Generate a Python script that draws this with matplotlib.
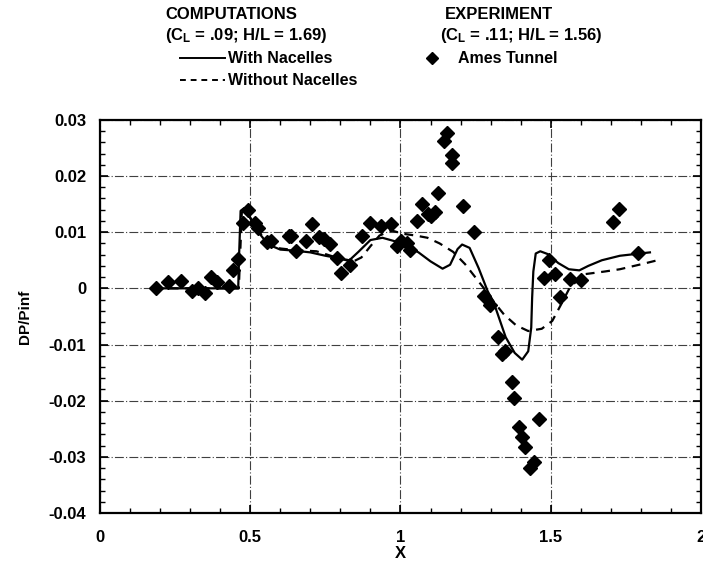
import numpy as np
import matplotlib
matplotlib.use('Agg')
import matplotlib.pyplot as plt
from matplotlib.lines import Line2D
from matplotlib.ticker import MultipleLocator, FuncFormatter

plt.rcParams['font.family'] = ['Liberation Sans', 'DejaVu Sans']
plt.rcParams['font.weight'] = 'bold'
plt.rcParams['mathtext.fontset'] = 'custom'
plt.rcParams['mathtext.rm'] = 'Liberation Sans:bold'
plt.rcParams['mathtext.default'] = 'rm'

# Experiment (Ames Tunnel)
exp_x = [0.185, 0.225, 0.269, 0.305, 0.326, 0.349, 0.371, 0.390, 0.431, 0.444,
         0.459, 0.475, 0.493, 0.515, 0.525, 0.556, 0.568, 0.628, 0.637, 0.651,
         0.684, 0.705, 0.728, 0.745, 0.765, 0.789, 0.803, 0.832, 0.873, 0.897,
         0.935, 0.970, 0.990, 1.003, 1.020, 1.033, 1.055, 1.073, 1.090, 1.103,
         1.116, 1.124, 1.146, 1.154, 1.171, 1.173, 1.209, 1.244, 1.278, 1.297,
         1.323, 1.338, 1.349, 1.370, 1.379, 1.395, 1.403, 1.414, 1.431, 1.445,
         1.461, 1.478, 1.493, 1.513, 1.532, 1.563, 1.599, 1.706, 1.728, 1.790]
exp_y = [0.0000, 0.0012, 0.0013, -0.0005, 0.0001, -0.0009, 0.0021, 0.0011, 0.0005, 0.0033,
         0.0053, 0.0116, 0.0140, 0.0116, 0.0107, 0.0082, 0.0084, 0.0093, 0.0094, 0.0066,
         0.0084, 0.0115, 0.0092, 0.0087, 0.0079, 0.0054, 0.0027, 0.0041, 0.0093, 0.0116,
         0.0111, 0.0114, 0.0075, 0.0084, 0.0080, 0.0068, 0.0119, 0.0150, 0.0133, 0.0128,
         0.0136, 0.0170, 0.0263, 0.0276, 0.0238, 0.0224, 0.0146, 0.0100, -0.0014, -0.0029,
         -0.0087, -0.0117, -0.0112, -0.0166, -0.0195, -0.0247, -0.0265, -0.0283, -0.0319, -0.0310,
         -0.0232, 0.0018, 0.0050, 0.0026, -0.0016, 0.0016, 0.0015, 0.0118, 0.0142, 0.0063]

# Computations, with nacelles
with_x = [0.18, 0.46, 0.463, 0.468, 0.48, 0.50, 0.53, 0.56, 0.60, 0.65,
          0.70, 0.75, 0.80, 0.83, 0.86, 0.90, 0.94, 0.98, 1.02, 1.06,
          1.10, 1.14, 1.165, 1.19, 1.205, 1.23, 1.26, 1.29, 1.31, 1.35,
          1.38, 1.405, 1.425, 1.435, 1.438, 1.442, 1.45, 1.465, 1.49, 1.525,
          1.56, 1.595, 1.625, 1.67, 1.73, 1.83]
with_y = [0.0, 0.0, 0.0060, 0.0138, 0.0143, 0.0125, 0.0098, 0.0078, 0.0069, 0.0067,
          0.0064, 0.0058, 0.0053, 0.0050, 0.0065, 0.0086, 0.0090, 0.0084, 0.0076, 0.0064,
          0.0048, 0.0035, 0.0042, 0.0070, 0.0078, 0.0072, 0.0036, -0.0005, -0.0025, -0.0087,
          -0.0115, -0.0127, -0.0112, -0.0070, -0.0017, 0.0030, 0.0062, 0.0066, 0.0061, 0.0045,
          0.0034, 0.0032, 0.0040, 0.0050, 0.0058, 0.0064]

# Computations, without nacelles
without_x = [0.18, 0.462, 0.472, 0.485, 0.50, 0.53, 0.56, 0.60, 0.65, 0.72,
             0.78, 0.84, 0.87, 0.90, 0.93, 0.97, 1.01, 1.05, 1.09, 1.13,
             1.175, 1.215, 1.25, 1.285, 1.315, 1.345, 1.385, 1.425, 1.47, 1.505,
             1.535, 1.563, 1.61, 1.68, 1.73, 1.77, 1.81, 1.855]
without_y = [0.0, 0.0, 0.0135, 0.0140, 0.0126, 0.0100, 0.0080, 0.0071, 0.0068, 0.0066,
             0.0056, 0.0047, 0.0055, 0.0075, 0.0094, 0.0103, 0.0097, 0.0094, 0.0090, 0.0080,
             0.0065, 0.0043, 0.0019, -0.0005, -0.0027, -0.0047, -0.0066, -0.0076, -0.0072, -0.0058,
             -0.0028, 0.0001, 0.0025, 0.0030, 0.0034, 0.0039, 0.0044, 0.0050]

fig = plt.figure(figsize=(7.03, 5.69), dpi=100)
ax = fig.add_axes([0.1422, 0.0984, 0.855, 0.691])

ax.plot(with_x, with_y, color='black', lw=1.6)
ax.plot(without_x, without_y, color='black', lw=1.6, linestyle=(0, (4, 3)))
ax.plot(exp_x, exp_y, linestyle='none', marker='D', ms=7, color='black')

ax.set_xlim(0, 2)
ax.set_ylim(-0.04, 0.03)
ax.xaxis.set_major_locator(MultipleLocator(0.5))
ax.xaxis.set_minor_locator(MultipleLocator(0.1))
ax.yaxis.set_major_locator(MultipleLocator(0.01))
ax.yaxis.set_minor_locator(MultipleLocator(0.002))

def fmt(v, pos):
    if abs(v) < 1e-9:
        return '0'
    return ('%g' % round(v, 3))

ax.xaxis.set_major_formatter(FuncFormatter(fmt))
ax.yaxis.set_major_formatter(FuncFormatter(fmt))
ax.tick_params(which='both', direction='in', top=True, right=True, labelsize=12)
ax.tick_params(which='major', length=6, width=1.2)
ax.tick_params(which='minor', length=3.5, width=1)
ax.tick_params(axis='x', pad=12)
ax.tick_params(axis='y', pad=10)
for s in ax.spines.values():
    s.set_linewidth(1.6)

ax.grid(True, which='major', color='0.25', lw=0.8, linestyle=(0, (8, 2, 1, 2)))

ax.set_xlabel('X', fontsize=12, fontweight='bold', labelpad=1)
ax.set_ylabel('DP/Pinf', fontsize=11, fontweight='bold', labelpad=12)

# header / legend
fs = 12
fig.text(0.2347, 0.975, 'COMPUTATIONS', fontsize=fs, va='center')
fig.text(0.2347, 0.937, '(C$_\\mathrm{L}$ = .09; H/L = 1.69)', fontsize=fs, va='center')
fig.add_artist(Line2D([0.256, 0.320], [0.898, 0.898], color='black', lw=1.4,
                      transform=fig.transFigure))
fig.text(0.3243, 0.898, 'With Nacelles', fontsize=fs - 0.5, va='center')
fig.add_artist(Line2D([0.256, 0.320], [0.859, 0.859], color='black', lw=1.4,
                      linestyle=(0, (3, 2.5)), transform=fig.transFigure))
fig.text(0.3243, 0.859, 'Without Nacelles', fontsize=fs - 0.5, va='center')

fig.text(0.633, 0.975, 'EXPERIMENT', fontsize=fs, va='center')
fig.text(0.626, 0.937, '(C$_\\mathrm{L}$ = .11; H/L = 1.56)', fontsize=fs, va='center')
fig.add_artist(Line2D([0.6145], [0.898], marker='D', ms=6, color='black',
                      linestyle='none', transform=fig.transFigure))
fig.text(0.6515, 0.898, 'Ames Tunnel', fontsize=fs - 0.5, va='center')

fig.savefig('out.png', dpi=100)
